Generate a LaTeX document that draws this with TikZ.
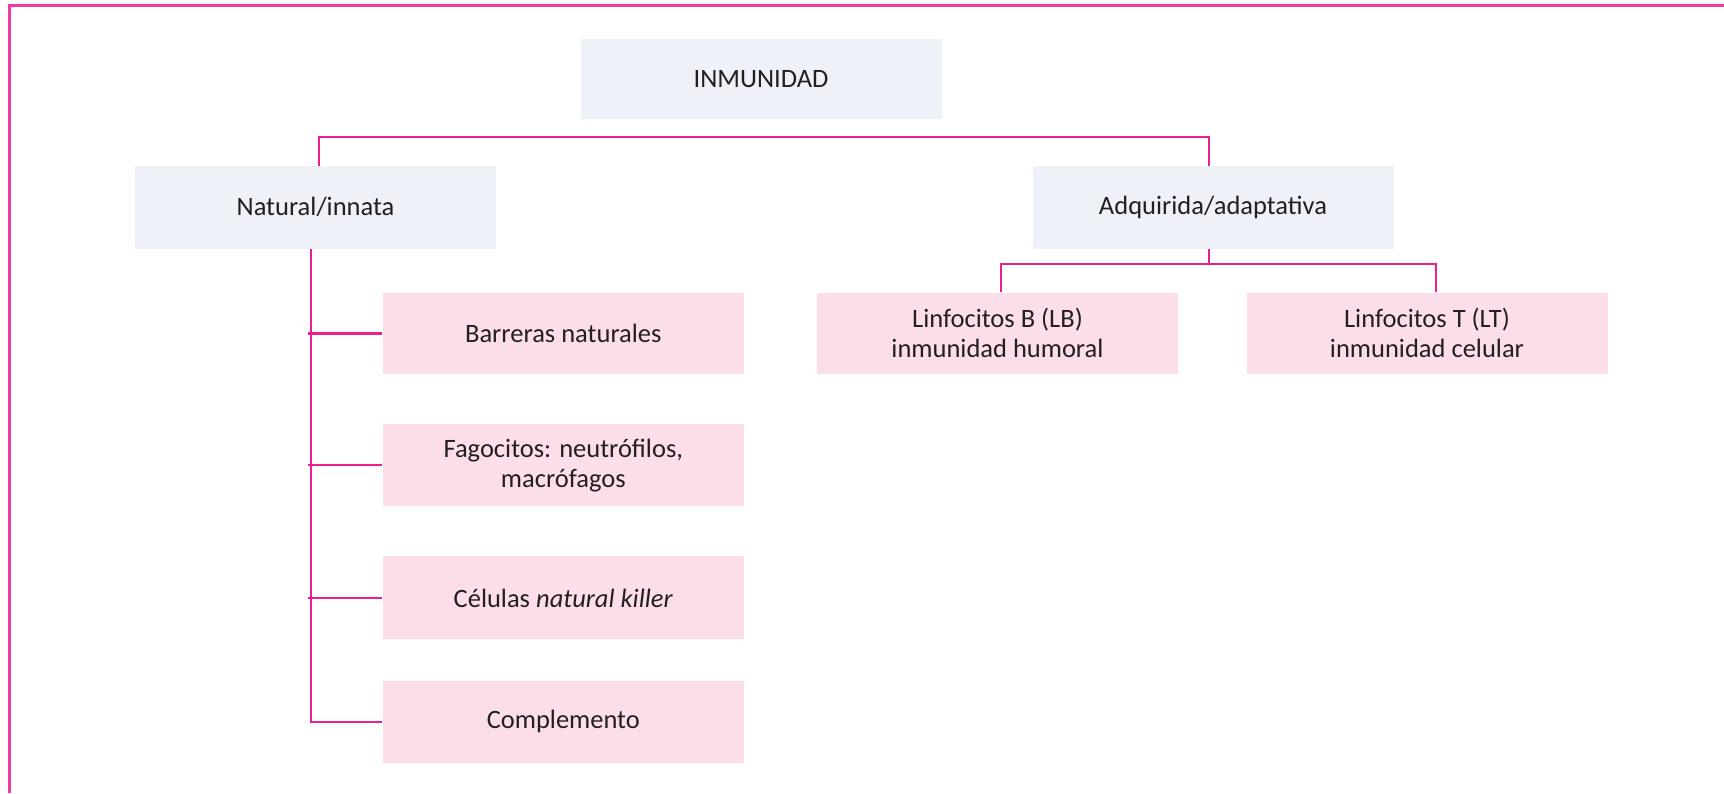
\documentclass[tikz,border=0pt]{standalone}
\usepackage{fontspec}
\setmainfont{Carlito}
\usetikzlibrary{calc}
\definecolor{mag}{RGB}{236,30,145}
\definecolor{framec}{RGB}{240,56,166}
\definecolor{pinkbox}{RGB}{251,222,234}
\definecolor{bluebox}{RGB}{238,241,248}
\definecolor{txt}{RGB}{35,31,32}
\tikzset{
  base/.style={rectangle, inner sep=0pt, align=center, text=txt,
    minimum width=180.5pt, minimum height=40.75pt,
    font=\fontsize{13.25}{15}\selectfont},
  bluenode/.style={base, fill=bluebox},
  pinknode/.style={base, fill=pinkbox},
  conn/.style={draw=mag, line width=1.05pt},
  framel/.style={draw=framec, line width=1.5pt}
}
\begin{document}
\begin{tikzpicture}[x=0.5pt, y=-0.5pt]
\useasboundingbox (0,0) rectangle (1724,793);
\coordinate (fa) at (9,793);
\coordinate (fb) at (9,5.5);
\coordinate (fc) at (1724,5.5);
\draw[framel] (fa) -- (fb) -- (fc);

\node[bluenode, minimum height=40pt] (inm) at (761,78.6) {INMUNIDAD};
\node[bluenode, minimum height=41.25pt] (nat) at (315.5,207.3) {Natural/innata};
\node[bluenode, minimum height=41.25pt] (adq) at (1213,207.3) {Adquirida/adaptativa};

\node[pinknode] (lb) at (997.5,333.3) {Linfocitos B (LB)\\inmunidad humoral};
\node[pinknode] (lt) at (1427,333.3) {Linfocitos T (LT)\\inmunidad celular};

\node[pinknode] (bar) at (563.3,333.5) {Barreras naturales};
\node[pinknode] (fag) at (563.3,465.2) {Fagocitos: neutrófilos,\\macrófagos};
\node[pinknode, minimum height=41.5pt] (cel) at (563.3,597.9) {Células \textit{natural killer}};
\node[pinknode] (com) at (563.3,721.9) {Complemento};

% top bracket
\coordinate (top) at (761,137.4);
\draw[conn] ([xshift=1.7pt]nat.north) |- (top) -| ([xshift=-2.2pt]adq.north);

% adquirida branches
\coordinate (mid) at (1209,263.9);
\draw[conn] ([xshift=-2pt]adq.south) -- (mid);
\draw[conn] ([xshift=1.75pt]lb.north) |- (mid) -| ([xshift=4.5pt]lt.north);

% natural trunk
\coordinate (tr) at (311,0);
\draw[conn] ([xshift=-2.25pt]nat.south) |- (com.west);
\draw[conn] ($(bar.west -| tr)+(-3,0)$) -- (bar.west);
\draw[conn] ($(fag.west -| tr)+(-3,0)$) -- (fag.west);
\draw[conn] ($(cel.west -| tr)+(-3,0)$) -- (cel.west);
\end{tikzpicture}
\end{document}
